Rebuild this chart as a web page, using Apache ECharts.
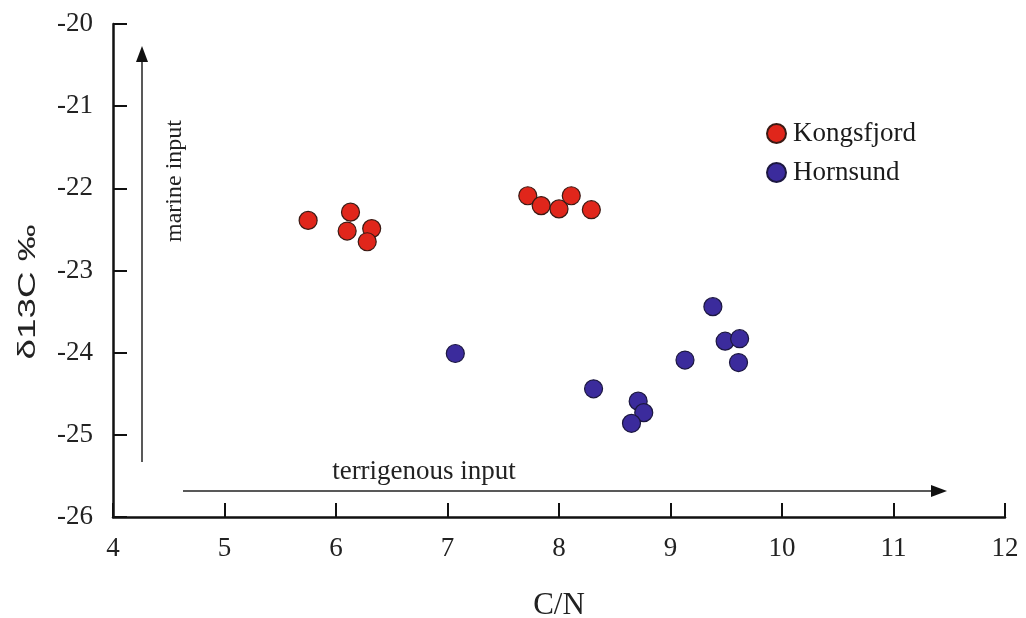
<!DOCTYPE html>
<html>
<head>
<meta charset="utf-8">
<script src="https://cdn.jsdelivr.net/npm/echarts@6/dist/echarts.min.js"></script>
<style>
  html, body { margin: 0; padding: 0; background: #fff; }
  #main { width: 1026px; height: 618px; }
</style>
</head>
<body>
<div id="main"></div>
<script>
// Kongsfjord samples (C/N, d13C)
var kongsCN = [5.75, 6.13, 6.10, 6.32, 6.28, 7.72, 7.84, 8.00, 8.11, 8.29];
var kongsD13 = [-22.39, -22.29, -22.52, -22.49, -22.65, -22.09, -22.21, -22.25, -22.09, -22.26];
// Hornsund samples
var hornCN = [7.07, 8.31, 8.71, 8.76, 8.65, 9.13, 9.38, 9.49, 9.62, 9.61];
var hornD13 = [-24.01, -24.44, -24.59, -24.73, -24.86, -24.09, -23.44, -23.86, -23.83, -24.12];

var xTicks = [4, 5, 6, 7, 8, 9, 10, 11, 12];
var yTicks = [-26, -25, -24, -23, -22, -21, -20];

function pairs(xs, ys) {
  var out = [];
  for (var i = 0; i < xs.length; i++) {
    out.push([xs[i], ys[i]]);
  }
  return out;
}

var chart = echarts.init(document.getElementById('main'));
var font = 'Liberation Serif';

var option = {
  backgroundColor: '#ffffff',
  animation: false,
  grid: { left: 113, right: 21, top: 24, bottom: 101, outerBoundsMode: 'none' },
  legend: {
    orient: 'vertical',
    left: 761,
    top: 115,
    itemWidth: 19,
    itemHeight: 19,
    itemGap: 12,
    icon: 'circle',
    textStyle: { fontFamily: font, fontSize: 27, color: '#1a1a1a', padding: [0, 0, 0, 2] },
    data: ['Kongsfjord', 'Hornsund']
  },
  xAxis: {
    type: 'value',
    min: xTicks[0],
    max: xTicks[xTicks.length - 1],
    interval: 1,
    name: 'C/N',
    nameLocation: 'middle',
    nameGap: 73,
    nameTextStyle: { fontFamily: font, fontSize: 31, color: '#222' },
    axisLine: { lineStyle: { color: '#111', width: 2.5 } },
    axisTick: { inside: true, length: 14, lineStyle: { color: '#111', width: 2 } },
    axisLabel: { fontFamily: font, fontSize: 27, color: '#222', margin: 18 },
    splitLine: { show: false }
  },
  yAxis: {
    type: 'value',
    min: yTicks[0],
    max: yTicks[yTicks.length - 1],
    interval: 1,
    axisLine: { onZero: false, lineStyle: { color: '#111', width: 2.5 } },
    axisTick: { inside: true, length: 14, lineStyle: { color: '#111', width: 2 } },
    axisLabel: { fontFamily: font, fontSize: 27, color: '#222', margin: 20 },
    splitLine: { show: false }
  },
  series: [{
    name: 'Kongsfjord',
    type: 'scatter',
    symbolSize: 18,
    itemStyle: { color: '#e0261b', opacity: 1, borderColor: '#3a1a14', borderWidth: 1.2 },
    data: pairs(kongsCN, kongsD13)
  }, {
    name: 'Hornsund',
    type: 'scatter',
    symbolSize: 18,
    itemStyle: { color: '#3b2b9c', opacity: 1, borderColor: '#1c1740', borderWidth: 1.2 },
    data: pairs(hornCN, hornD13)
  }],
  graphic: [
    // y axis title
    { type: 'text', x: 29, y: 292, rotation: Math.PI / 2, scaleX: 1.6,
      style: { text: 'δ13C ‰', font: '23px "Liberation Sans"', fill: '#222', align: 'center', verticalAlign: 'middle' } },
    // marine input arrow
    { type: 'line', shape: { x1: 142, y1: 462, x2: 142, y2: 60 }, style: { stroke: '#222', lineWidth: 1.5 } },
    { type: 'polygon', shape: { points: [[142, 46], [136, 62], [148, 62]] }, style: { fill: '#111' } },
    { type: 'text', x: 175, y: 181, rotation: Math.PI / 2,
      style: { text: 'marine input', font: '24px "Liberation Serif"', fill: '#222', align: 'center', verticalAlign: 'middle' } },
    // terrigenous input arrow
    { type: 'line', shape: { x1: 183, y1: 491, x2: 933, y2: 491 }, style: { stroke: '#222', lineWidth: 1.5 } },
    { type: 'polygon', shape: { points: [[947, 491], [931, 485], [931, 497]] }, style: { fill: '#111' } },
    { type: 'text', x: 424, y: 472,
      style: { text: 'terrigenous input', font: '27px "Liberation Serif"', fill: '#222', align: 'center', verticalAlign: 'middle' } }
  ]
};

chart.setOption(option);
</script>
</body>
</html>
